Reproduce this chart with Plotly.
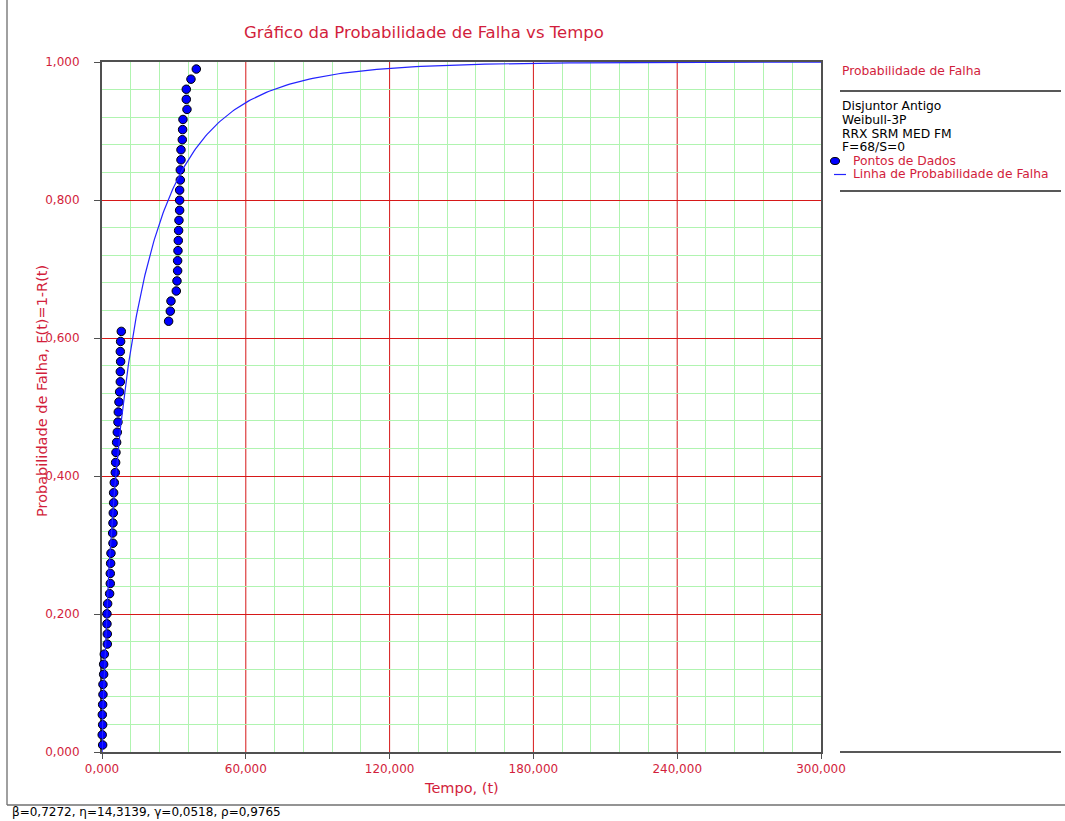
import numpy as np
import plotly.graph_objects as go

# Failure times (t) and their median-rank unreliability F(t)
failure_times = [
    0.27, 0.08, 0.27, 0.13, 0.27, 0.40, 0.40, 0.68, 0.68, 0.96,
    2.21, 2.21, 2.07, 2.07, 2.35, 3.18, 3.46, 3.46, 3.60, 3.74,
    4.58, 4.44, 4.58, 4.71, 4.85, 4.85, 5.13, 5.55, 5.69, 5.83,
    6.10, 6.38, 6.66, 6.80, 7.08, 7.36, 7.64, 7.64, 7.77, 7.64,
    7.77, 8.05,
    27.80, 28.50, 28.78, 31.00, 31.28, 31.56, 31.56, 31.70, 31.83, 31.97,
    32.11, 32.39, 32.39, 32.39, 32.67, 32.67, 32.95, 32.95, 33.50, 33.64,
    33.78, 35.45, 35.17, 35.17, 37.12, 39.35,
]
unreliability = [
    0.0102, 0.0249, 0.0395, 0.0541, 0.0687, 0.0833, 0.0980, 0.1126, 0.1272, 0.1418,
    0.1564, 0.1711, 0.1857, 0.2003, 0.2149, 0.2295, 0.2442, 0.2588, 0.2734, 0.2880,
    0.3026, 0.3173, 0.3319, 0.3465, 0.3611, 0.3757, 0.3904, 0.4050, 0.4196, 0.4342,
    0.4488, 0.4635, 0.4781, 0.4927, 0.5073, 0.5219, 0.5365, 0.5512, 0.5658, 0.5804,
    0.5950, 0.6096,
    0.6243, 0.6389, 0.6535, 0.6681, 0.6827, 0.6974, 0.7120, 0.7266, 0.7412, 0.7558,
    0.7705, 0.7851, 0.7997, 0.8143, 0.8289, 0.8436, 0.8582, 0.8728, 0.8874, 0.9020,
    0.9167, 0.9313, 0.9459, 0.9605, 0.9751, 0.9898,
]

# Weibull-3P fit parameters
beta = 0.7272
eta = 14.3139
gamma = 0.0518
rho = 0.9765

legend_info = ["Disjuntor Antigo", "Weibull-3P", "RRX SRM MED FM", "F=68/S=0"]

x_range = [0, 300]
y_range = [0, 1]
x_major = [0, 60, 120, 180, 240, 300]
y_major = [0, 0.2, 0.4, 0.6, 0.8, 1.0]
x_minor = [12, 24, 36, 48, 72, 84, 96, 108, 132, 144, 156, 168,
           192, 204, 216, 228, 252, 264, 276, 288]
y_minor = [0.04, 0.08, 0.12, 0.16, 0.24, 0.28, 0.32, 0.36, 0.44, 0.48, 0.52, 0.56,
           0.64, 0.68, 0.72, 0.76, 0.84, 0.88, 0.92, 0.96]

RED = "#D21E3C"
GRID_RED = "#D61818"
GRID_GREEN = "#B0F4B0"
FONT = "DejaVu Sans"

# Fitted unreliability curve F(t) = 1 - exp(-((t - gamma)/eta)^beta)
t_curve = np.concatenate([[gamma], gamma + np.geomspace(1e-4, x_range[1] - gamma, 900)])
f_curve = 1.0 - np.exp(-(((t_curve - gamma) / eta) ** beta))

fig = go.Figure()
fig.add_trace(go.Scatter(
    x=failure_times, y=unreliability, mode="markers",
    marker=dict(symbol="circle", size=8.5, color="#0000FF",
                line=dict(color="#000000", width=1)),
    cliponaxis=False, showlegend=False,
))
fig.add_trace(go.Scatter(
    x=t_curve, y=f_curve, mode="lines",
    line=dict(color="#2424FF", width=1.2),
    showlegend=False,
))

# figure geometry (pixels)
W, H = 1065, 821
L, R, T, B = 102, 244, 62, 69
PW, PH = W - L - R, H - T - B


def px(xp):
    return (xp - L) / PW


def py(yp):
    return (H - B - yp) / PH


axis_common = dict(
    showline=True, mirror=True, linecolor="#505050", linewidth=2,
    ticks="outside", tickcolor="#505050",
    tickfont=dict(family=FONT, size=12, color=RED),
    tickformat=".3f", zeroline=False, layer="below traces",
)

fig.update_xaxes(
    range=x_range, tickmode="array", tickvals=x_major, ticklen=5, ticklabelstandoff=0,
    showgrid=False,
    minor=dict(tickmode="array", tickvals=x_minor, showgrid=True,
               gridcolor=GRID_GREEN, gridwidth=1, ticks=""),
    **axis_common,
)
fig.update_yaxes(
    range=y_range, tickmode="array", tickvals=y_major, ticklen=6, ticklabelstandoff=12,
    showgrid=True, gridcolor=GRID_RED, gridwidth=1,
    minor=dict(tickmode="array", tickvals=y_minor, showgrid=True,
               gridcolor=GRID_GREEN, gridwidth=1, ticks=""),
    **axis_common,
)

annotations = [
    dict(text="Gráfico da Probabilidade de Falha vs Tempo", x=px(423.5), y=py(32),
         font=dict(family=FONT, size=16.5, color=RED)),
    dict(text="Tempo, (t)", x=px(461), y=py(788),
         font=dict(family=FONT, size=14.5, color=RED)),
    dict(text="Probabilidade de Falha, F(t)=1-R(t)", x=px(42), y=py(391), textangle=-90,
         font=dict(family=FONT, size=14.5, color=RED)),
]
for a in annotations:
    a.update(xref="paper", yref="paper", showarrow=False, xanchor="center", yanchor="middle")

# legend block on the right
legend_texts = [("Probabilidade de Falha", 840, 71, RED)]
for i, s in enumerate(legend_info):
    legend_texts.append((s, 840, 106 + i * 13.8, "#000000"))
legend_texts.append(("Pontos de Dados", 851, 161, RED))
legend_texts.append(("Linha de Probabilidade de Falha", 851, 174.5, RED))
for s, xp, yp, c in legend_texts:
    annotations.append(dict(text=s, x=px(xp), y=py(yp), xref="paper", yref="paper",
                            showarrow=False, xanchor="left", yanchor="middle",
                            font=dict(family=FONT, size=12.3, color=c)))

# parameter footer
footer = "β={}, η={}, γ={}, ρ={}".format(
    f"{beta:.4f}".replace(".", ","), f"{eta:.4f}".replace(".", ","),
    f"{gamma:.4f}".replace(".", ","), f"{rho:.4f}".replace(".", ","))
annotations.append(dict(text=footer, x=px(10), y=py(812.5), xref="paper", yref="paper",
                        showarrow=False, xanchor="left", yanchor="middle",
                        font=dict(family=FONT, size=12, color="#000000")))

shapes = []
# red major grid for the time axis
for xv in x_major[1:-1]:
    shapes.append(dict(type="line", xref="x", yref="paper", x0=xv, x1=xv, y0=0, y1=1,
                       line=dict(color=GRID_RED, width=1), layer="below"))

paper_shapes = [
    # legend separators
    dict(type="line", x0=px(840), x1=px(1061), y0=py(91), y1=py(91),
         line=dict(color="#202020", width=1.5)),
    dict(type="line", x0=px(840), x1=px(1061), y0=py(191), y1=py(191),
         line=dict(color="#202020", width=1.5)),
    dict(type="line", x0=px(840), x1=px(1061), y0=py(752), y1=py(752),
         line=dict(color="#202020", width=1.5)),
    # legend samples
    dict(type="circle", x0=px(830.5), x1=px(839.5), y0=py(164.5), y1=py(157.5),
         fillcolor="#0000FF", line=dict(color="#000000", width=1)),
    dict(type="line", x0=px(834), x1=px(846), y0=py(174.5), y1=py(174.5),
         line=dict(color="#2424FF", width=1.2)),
    # outer frame
    dict(type="line", x0=px(7), x1=px(7), y0=py(0), y1=py(805),
         line=dict(color="#A0A0A0", width=2)),
    dict(type="line", x0=px(7), x1=px(1065), y0=py(805), y1=py(805),
         line=dict(color="#707070", width=1.5)),
]
for s in paper_shapes:
    s.update(xref="paper", yref="paper", layer="above")
shapes += paper_shapes

fig.update_layout(
    width=W, height=H,
    margin=dict(l=L, r=R, t=T, b=B, autoexpand=False),
    paper_bgcolor="#FFFFFF", plot_bgcolor="#FFFFFF",
    separators=",.",
    annotations=annotations, shapes=shapes,
    font=dict(family=FONT),
)

fig.write_html("out.html")
